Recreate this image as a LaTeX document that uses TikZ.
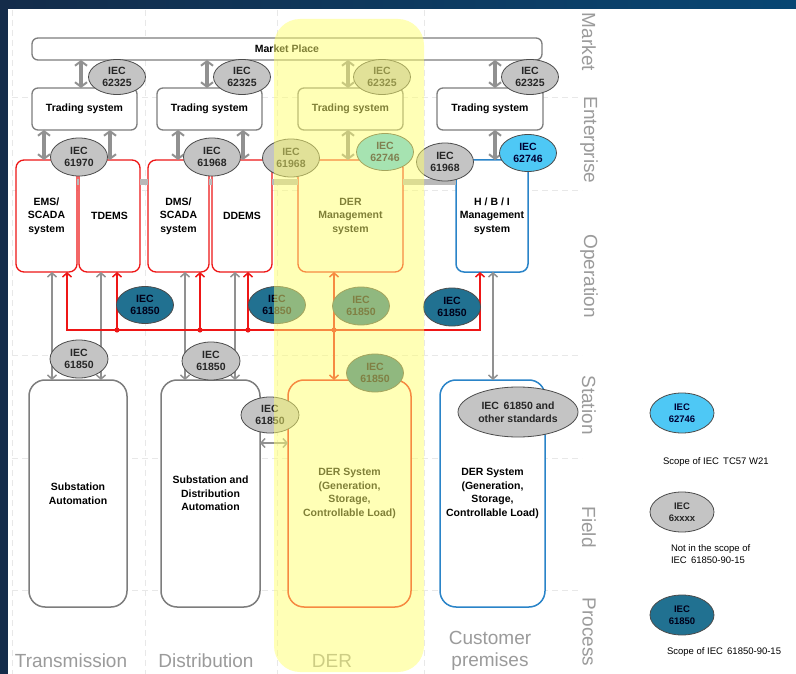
\documentclass[tikz,border=0pt]{standalone}
\usepackage{fontspec}
\setmainfont{Liberation Sans}
\usetikzlibrary{arrows.meta,shapes.geometric}
\definecolor{navyA}{RGB}{20,44,74}
\definecolor{navyB}{RGB}{8,70,115}
\definecolor{gridgray}{RGB}{232,232,232}
\definecolor{boxgray}{RGB}{125,125,125}
\definecolor{arrgray}{RGB}{145,145,145}
\definecolor{busgray}{RGB}{185,185,185}
\definecolor{ellgray}{RGB}{196,196,196}
\definecolor{ellteal}{RGB}{33,113,145}
\definecolor{ellcyan}{RGB}{78,200,245}
\definecolor{redline}{RGB}{238,22,22}
\definecolor{blueline}{RGB}{42,132,200}
\definecolor{labgray}{RGB}{155,155,155}
\definecolor{deryellow}{RGB}{255,255,110}
\begin{document}
\begin{tikzpicture}[x=1pt,y=-1pt,
  every node/.style={inner sep=0pt,outer sep=0pt},
  btext/.style={font=\fontsize{10.5}{13.5}\selectfont\bfseries,align=center},
  gbox/.style={btext,draw=boxgray,line width=1.3pt,fill=white,rounded corners=6pt},
  rbox/.style={btext,draw=redline,line width=1.3pt,fill=white,rounded corners=8pt,minimum height=112},
  bbox/.style={btext,draw=blueline,line width=1.5pt,fill=white,rounded corners=8pt},
  sbox/.style={btext,minimum height=227,line width=1.5pt,fill=white,rounded corners=16pt},
  iec/.style={ellipse,draw=black!70,line width=0.8pt,align=center,font=\fontsize{10.5}{12.5}\selectfont\bfseries,text=black!85,minimum width=57,minimum height=35},
  iecg/.style={iec,fill=ellgray},
  iect/.style={iec,fill=ellteal,text=black!90!blue},
  iecc/.style={iec,fill=ellcyan,text=black!80!blue},
  marr/.style={draw=arrgray,line width=3.2pt,{Straight Barb[length=4.5pt,width=12pt,line width=2pt]}-{Straight Barb[length=4.5pt,width=12pt,line width=2pt]}},
  garr/.style={draw=arrgray,line width=2pt,{Straight Barb[length=4pt,width=9pt,line width=1.5pt]}-{Straight Barb[length=4pt,width=9pt,line width=1.5pt]}},
  rarr/.style={draw=redline,line width=1.8pt,-{Straight Barb[length=4pt,width=9pt,line width=1.5pt]}},
  rarrtwo/.style={draw=redline,line width=1.8pt,{Straight Barb[length=4pt,width=9pt,line width=1.5pt]}-{Straight Barb[length=4pt,width=9pt,line width=1.5pt]}},
  bus/.style={draw=busgray,line width=6pt},
  gridline/.style={draw=gridgray,line width=0.7pt,dash pattern=on 6pt off 4pt},
  lane/.style={font=\fontsize{19}{19}\selectfont,text=labgray},
  legt/.style={font=\fontsize{9.5}{11.5}\selectfont,align=left,anchor=west}
]
\useasboundingbox (0,0) rectangle (796,674);
\shade[left color=navyA,right color=navyB] (0,0) rectangle (796,674);
\fill[white] (8,9) rectangle (796,674);

% grid
\foreach \gx in {12,145,277,424} \draw[gridline] (\gx,10) -- (\gx,674);
\foreach \gy in {97,190,355,458,590} \draw[gridline] (12,\gy) -- (582,\gy);

% market & trading
\node[gbox,minimum width=510,minimum height=22] (mp) at (287,49) {Market Place};
\node[gbox,minimum width=105,minimum height=42] (tr1) at (84.5,109) {Trading system};
\node[gbox,minimum width=105,minimum height=42] (tr2) at (209.5,109) {Trading system};
\node[gbox,minimum width=105,minimum height=42] (tr3) at (350.5,109) {Trading system};
\node[gbox,minimum width=106,minimum height=42] (tr4) at (490,109) {Trading system};

% operation boxes
\node[rbox,minimum width=61] (ems) at (46.5,216) {EMS/\\SCADA\\system};
\node[rbox,minimum width=61] (tdems) at (109.5,216) {TDEMS};
\node[rbox,minimum width=61] (dms) at (178.5,216) {DMS/\\SCADA\\system};
\node[rbox,minimum width=60] (ddems) at (242,216) {DDEMS};
\node[rbox,minimum width=105] (derm) at (350.5,216) {DER\\Management\\system};
\node[bbox,minimum width=72,minimum height=112] (hbi) at (492,216) {H / B / I\\Management\\system};

% gray bus between operation boxes
\draw[bus] (ems.east |- 0,182) -- (tdems.west |- 0,182);
\draw[bus] (tdems.east |- 0,182) -- (dms.west |- 0,182);
\draw[bus] (dms.east |- 0,182) -- (ddems.west |- 0,182);
\draw[bus] (ddems.east |- 0,182) -- (derm.west |- 0,182);
\draw[bus] (derm.east |- 0,182) -- (hbi.west |- 0,182);

% station boxes
\node[sbox,draw=boxgray,minimum width=98] (sa) at (78,493.5) {Substation\\Automation};
\node[sbox,draw=boxgray,minimum width=99] (sda) at (210.5,493.5) {Substation and\\Distribution\\Automation};
\node[sbox,draw=redline,minimum width=123] (ders) at (349.5,493.5) {DER System\\(Generation,\\Storage,\\Controllable Load)};
\node[sbox,draw=blueline,minimum width=105] (dersb) at (492.5,493.5) {DER System\\(Generation,\\Storage,\\Controllable Load)};

% market <-> trading arrows
\draw[marr] (81,0 |- mp.south) -- (81,0 |- tr1.north);
\draw[marr] (207,0 |- mp.south) -- (207,0 |- tr2.north);
\draw[marr] (348,0 |- mp.south) -- (348,0 |- tr3.north);
\draw[marr] (495,0 |- mp.south) -- (495,0 |- tr4.north);

% trading <-> operation arrows
\draw[marr] (44,0 |- tr1.south) -- (44,0 |- ems.north);
\draw[marr] (110,0 |- tr1.south) -- (110,0 |- tdems.north);
\draw[marr] (178,0 |- tr2.south) -- (178,0 |- dms.north);
\draw[marr] (243,0 |- tr2.south) -- (243,0 |- ddems.north);
\draw[marr] (348,0 |- tr3.south) -- (348,0 |- derm.north);
\draw[marr] (495,0 |- tr4.south) -- (495,0 |- hbi.north);

% operation <-> station gray arrows
\draw[garr] (52,0 |- ems.south) -- (52,0 |- sa.north);
\draw[garr] (101,0 |- tdems.south) -- (101,0 |- sa.north);
\draw[garr] (185,0 |- dms.south) -- (185,0 |- sda.north);
\draw[garr] (235,0 |- ddems.south) -- (235,0 |- sda.north);
\draw[garr] (493,0 |- hbi.south) -- (493,0 |- dersb.north);
\draw[garr] (sda.east |- 0,443) -- (ders.west |- 0,443);

% red bus
\coordinate (rb1) at (117,330);
\coordinate (rb2) at (200,330);
\coordinate (rb3) at (248,330);
\coordinate (rb4) at (334,330);
\draw[rarrtwo,line join=miter] (67,0 |- ems.south) -- (67,330) -- (480,330) -- (480,0 |- hbi.south);
\draw[rarr] (rb1) -- (rb1 |- tdems.south);
\draw[rarr] (rb2) -- (rb2 |- dms.south);
\draw[rarr] (rb3) -- (rb3 |- ddems.south);
\draw[rarrtwo] (rb4 |- derm.south) -- (rb4 |- ders.north);
\foreach \p in {rb1,rb2,rb3,rb4} \fill[redline] (\p) circle (2.6pt);

% IEC ellipses
\node[iecg] (e1) at (117,77) {IEC\\62325};
\node[iecg] (e2) at (242,77) {IEC\\62325};
\node[iecg] (e3) at (382,77) {IEC\\62325};
\node[iecg] (e4) at (530,77) {IEC\\62325};
\node[iecg,minimum height=38] (e5) at (79,157) {IEC\\61970};
\node[iecg,minimum height=38] (e6) at (212,157) {IEC\\61968};
\node[iecg,minimum height=38] (e7) at (291,158) {IEC\\61968};
\node[iecc,minimum height=37] (e8) at (385,152) {IEC\\62746};
\node[iecg,minimum height=38] (e9) at (445,162) {IEC\\61968};
\node[iecc,minimum height=37] (e10) at (528,153) {IEC\\62746};
\node[iect,minimum height=37] (t1) at (145,305) {IEC\\61850};
\node[iect,minimum height=37] (t2) at (277,305) {IEC\\61850};
\node[iect,minimum height=38] (t3) at (361,306) {IEC\\61850};
\node[iect,minimum height=38] (t4) at (452,307) {IEC\\61850};
\node[iecg,minimum width=58,minimum height=38] (g1) at (79,359) {IEC\\61850};
\node[iecg,minimum width=58,minimum height=38] (g2) at (211,361) {IEC\\61850};
\node[iecg,minimum width=58,minimum height=36] (g3) at (270,415) {IEC\\61850};
\node[iect,minimum width=57,minimum height=38] (t5) at (375,373) {IEC\\61850};
\node[iecg,minimum width=120,minimum height=50] (g4) at (518,412) {IEC\, 61850 and\\other standards};

% DER column label (under the overlay)
\node[lane] (cder) at (332,661) {DER};

% yellow DER overlay
\fill[deryellow,fill opacity=0.5,rounded corners=26pt] (274,19) rectangle (424,672);

% lane labels
\node[lane,rotate=-90] (lmarket) at (589,42) {Market};
\node[lane,rotate=-90] (lent) at (589,140) {Enterprise};
\node[lane,rotate=-90] (lop) at (589,276) {Operation};
\node[lane,rotate=-90] (lst) at (589,405) {Station};
\node[lane,rotate=-90] (lfi) at (589,527) {Field};
\node[lane,rotate=-90] (lpr) at (589,632) {Process};
\node[lane] (ctr) at (71,661) {Transmission};
\node[lane] (cdi) at (206,661) {Distribution};
\node[lane,align=center,font=\fontsize{19}{22}\selectfont] (ccu) at (490,651) {Customer\\premises};

% legend
\node[iecc,minimum width=64,minimum height=40,font=\fontsize{9.5}{11.5}\selectfont\bfseries] (lc) at (682,413) {IEC\\62746};
\node[legt] (lct) at (663,462) {Scope of IEC\, TC57 W21};
\node[iecg,minimum width=64,minimum height=40,font=\fontsize{9.5}{11.5}\selectfont\bfseries] (lg) at (682,512) {IEC\\6xxxx};
\node[legt] (lgt) at (671,554) {Not in the scope of\\IEC\, 61850-90-15};
\node[iect,minimum width=64,minimum height=40,font=\fontsize{9.5}{11.5}\selectfont\bfseries] (lt) at (682,615) {IEC\\61850};
\node[legt] (ltt) at (667,652) {Scope of IEC\, 61850-90-15};
\end{tikzpicture}
\end{document}
